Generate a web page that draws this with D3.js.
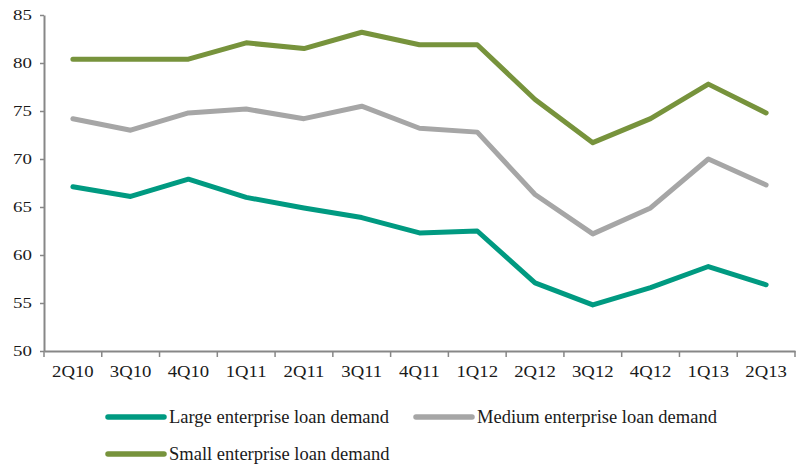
<!DOCTYPE html>
<html>
<head>
<meta charset="utf-8">
<script src="https://cdn.jsdelivr.net/npm/d3@7"></script>
<style>
  html, body { margin: 0; padding: 0; background: #fff; }
  svg text { font-family: "Liberation Serif", "Times New Roman", serif; fill: #1a1a1a; }
</style>
</head>
<body>
<svg id="chart" width="798" height="469"></svg>
<script>
const quarters = ["2Q10","3Q10","4Q10","1Q11","2Q11","3Q11","4Q11","1Q12","2Q12","3Q12","4Q12","1Q13","2Q13"];
const largeDemand  = [67.1, 66.1, 67.9, 66.0, 64.9, 63.9, 62.3, 62.5, 57.1, 54.8, 56.6, 58.8, 56.9];
const mediumDemand = [74.2, 73.0, 74.8, 75.2, 74.2, 75.5, 73.2, 72.8, 66.3, 62.2, 64.9, 70.0, 67.3];
const smallDemand  = [80.4, 80.4, 80.4, 82.1, 81.5, 83.2, 81.9, 81.9, 76.2, 71.7, 74.2, 77.8, 74.8];
const yTicks = [50, 55, 60, 65, 70, 75, 80, 85];

const seriesList = [
  { name: "Large enterprise loan demand",  values: largeDemand,  color: "#009a81" },
  { name: "Medium enterprise loan demand", values: mediumDemand, color: "#a6a6a6" },
  { name: "Small enterprise loan demand",  values: smallDemand,  color: "#77933c" }
];

const svg = d3.select("#chart");
const plotLeft = 44, plotRight = 795, plotTop = 15, plotBottom = 351;

const x = d3.scaleBand().domain(quarters).range([plotLeft, plotRight]).padding(0);
const y = d3.scaleLinear().domain([50, 85]).range([plotBottom, plotTop]);

const axisColor = "#878787";

// Y axis
const yAxis = svg.append("g")
  .attr("transform", `translate(${plotLeft},0)`)
  .call(d3.axisLeft(y).tickValues(yTicks).tickSize(4).tickSizeOuter(0));
yAxis.selectAll("text")
  .attr("x", 0)
  .attr("transform", "translate(-12,0) scale(1.22,1)")
  .style("font-size", "15.5px").style("fill", "#1a1a1a");

// X axis with ticks at category boundaries
const xAxis = svg.append("g")
  .attr("transform", `translate(0,${plotBottom})`)
  .call(d3.axisBottom(x).tickSize(0));
xAxis.selectAll("text")
  .attr("y", 0).attr("dy", null)
  .attr("transform", "translate(0,26) scale(1.17,1)")
  .style("font-size", "16px").style("fill", "#1a1a1a");
const boundaries = quarters.map(q => x(q)).concat([x(quarters[quarters.length - 1]) + x.bandwidth()]);
xAxis.selectAll(".boundary")
  .data(boundaries)
  .enter().append("line")
  .attr("class", "boundary")
  .attr("x1", d => d).attr("x2", d => d)
  .attr("y1", 0).attr("y2", 6)
  .attr("stroke", axisColor).attr("stroke-width", 1.5);

[yAxis, xAxis].forEach(g => {
  g.selectAll(".domain").attr("stroke", axisColor).attr("stroke-width", 2);
  g.selectAll(".tick line").attr("stroke", axisColor).attr("stroke-width", 1.5);
});

// Lines
const line = d3.line()
  .x((d, i) => x(quarters[i]) + x.bandwidth() / 2)
  .y(d => y(d));

svg.append("g").selectAll("path")
  .data(seriesList)
  .enter().append("path")
  .attr("d", s => line(s.values))
  .attr("fill", "none")
  .attr("stroke", s => s.color)
  .attr("stroke-width", 5)
  .attr("stroke-linejoin", "round")
  .attr("stroke-linecap", "round");

// Legend
const legendPos = [
  { x: 108, y: 417 },
  { x: 416, y: 417 },
  { x: 108, y: 454 }
];
const legend = svg.append("g").selectAll("g")
  .data(seriesList)
  .enter().append("g")
  .attr("transform", (d, i) => `translate(${legendPos[i].x},${legendPos[i].y})`);
legend.append("line")
  .attr("x1", 0).attr("x2", 56).attr("y1", 0).attr("y2", 0)
  .attr("stroke", d => d.color).attr("stroke-width", 5.5).attr("stroke-linecap", "round");
legend.append("text")
  .attr("x", 61).attr("y", 6)
  .style("font-size", "18.5px")
  .text(d => d.name);
</script>
</body>
</html>
